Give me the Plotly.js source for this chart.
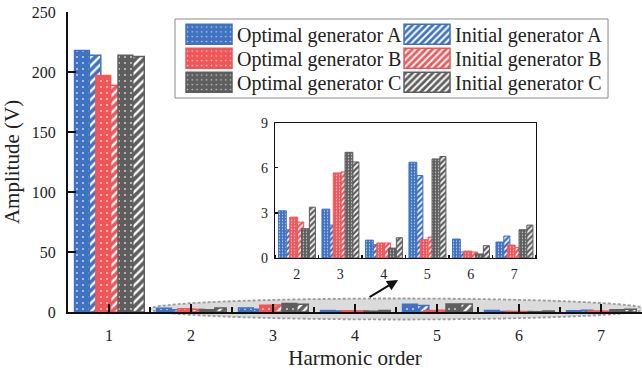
<!DOCTYPE html>
<html>
<head>
<meta charset="utf-8">
<script src="https://cdn.plot.ly/plotly-3.0.1.min.js"></script>
<style>html,body{margin:0;padding:0;background:#fff;}#chart{width:642px;height:372px;}</style>
</head>
<body>
<div id="chart"></div>
<script>
// ---- data ----
const harmonicOrder = [1, 2, 3, 4, 5, 6, 7];
const optimalA = [218, 3.14, 3.25, 1.19, 6.37, 1.26, 1.06];
const initialA = [214, 1.88, 2.19, 0.88, 5.49, 0.40, 1.46];
const optimalB = [197, 2.72, 5.66, 1.00, 1.22, 0.46, 0.86];
const initialB = [189, 2.39, 5.73, 1.00, 1.39, 0.40, 0.69];
const optimalC = [214, 1.95, 7.03, 0.66, 6.59, 0.27, 1.88];
const initialC = [213, 3.38, 6.39, 1.35, 6.75, 0.82, 2.19];
const seriesNames = ['Optimal generator A', 'Initial generator A', 'Optimal generator B',
                     'Initial generator B', 'Optimal generator C', 'Initial generator C'];
const mainTicks = [0, 50, 100, 150, 200, 250];
const insetTicks = [0, 3, 6, 9];

// ---- styles ----
const BLUE = '#3F72C0', RED = '#EF5659', GREY = '#5E5E5E';
const FONT = 'Liberation Serif, Times New Roman, serif';
const seriesData = [optimalA, initialA, optimalB, initialB, optimalC, initialC];
const seriesColor = [BLUE, BLUE, RED, RED, GREY, GREY];
const seriesOffset = [-0.42, -0.24, -0.16, 0.02, 0.11, 0.29];
const seriesWidth = [0.18, 0.14, 0.18, 0.14, 0.18, 0.14];
const seriesLegend = ['legend', 'legend', 'legend2', 'legend2', 'legend3', 'legend3'];

function pattern(i, small) {
  const opt = i % 2 === 0;
  return opt
    ? {shape: '.', bgcolor: seriesColor[i], fgcolor: 'rgba(255,255,255,0.75)', size: small ? 3 : 6, solidity: small ? 0.15 : 0.08, fillmode: 'replace'}
    : {shape: '/', bgcolor: seriesColor[i], fgcolor: '#ffffff', size: small ? 4 : 6, solidity: 0.4, fillmode: 'replace'};
}

const traces = [];
seriesData.forEach((vals, i) => {
  traces.push({
    type: 'bar', x: harmonicOrder, y: vals, name: seriesNames[i],
    xaxis: 'x', yaxis: 'y', legend: seriesLegend[i],
    offset: seriesOffset[i], width: seriesWidth[i],
    marker: {color: seriesColor[i], line: {color: seriesColor[i], width: 1.5}, pattern: pattern(i, false)},
    hoverinfo: 'skip'
  });
});
seriesData.forEach((vals, i) => {
  traces.push({
    type: 'bar', x: harmonicOrder.slice(1), y: vals.slice(1), name: seriesNames[i],
    xaxis: 'x2', yaxis: 'y2', showlegend: false,
    offset: seriesOffset[i], width: seriesWidth[i],
    marker: {color: seriesColor[i], line: {color: seriesColor[i], width: 1}, pattern: pattern(i, true)},
    hoverinfo: 'skip'
  });
});

function legendRow(y) {
  return {
    orientation: 'h', x: 0.1969, y: y, xanchor: 'left', yanchor: 'middle',
    bgcolor: 'rgba(0,0,0,0)', borderwidth: 0,
    font: {family: FONT, size: 20, color: '#222'},
    itemwidth: 46, entrywidth: 157, traceorder: 'normal'
  };
}

const layout = {
  width: 642, height: 372,
  margin: {l: 68, r: 0, t: 12, b: 60},
  paper_bgcolor: '#ffffff', plot_bgcolor: '#ffffff',
  barmode: 'overlay',
  font: {family: FONT, color: '#222', size: 15},
  showlegend: true,
  legend: legendRow(0.9257),
  legend2: legendRow(0.8457),
  legend3: legendRow(0.7657),
  xaxis: {
    domain: [0, 1], range: [0.5, 7.5],
    tickmode: 'array', tickvals: harmonicOrder, ticktext: harmonicOrder.map(String),
    ticks: 'inside', ticklen: 8, tickwidth: 1.5, tickcolor: '#111',
    showline: true, linecolor: '#111', linewidth: 2, zeroline: false, showgrid: false,
    minor: {tickmode: 'linear', tick0: 0.5, dtick: 1, ticks: 'inside', ticklen: 5, tickwidth: 1.5, tickcolor: '#111'},
    tickfont: {family: FONT, size: 16}, ticklabelstandoff: 8,
    title: {text: 'Harmonic order', font: {family: FONT, size: 21}, standoff: 7}
  },
  yaxis: {
    domain: [0, 1], range: [0, 250],
    tickmode: 'array', tickvals: mainTicks,
    ticks: 'inside', ticklen: 8, tickwidth: 1.5, tickcolor: '#111',
    showline: true, linecolor: '#111', linewidth: 2, zeroline: false, showgrid: false,
    tickfont: {family: FONT, size: 16}, ticklabelstandoff: 7,
    title: {text: 'Amplitude (V)', font: {family: FONT, size: 21}, standoff: 6}
  },
  xaxis2: {
    domain: [0.3606, 0.8153], range: [1.5, 7.5], anchor: 'y2',
    tickmode: 'array', tickvals: harmonicOrder.slice(1), ticktext: harmonicOrder.slice(1).map(String),
    ticks: '', showline: true, mirror: true, linecolor: '#111', linewidth: 1.2,
    minor: {tickmode: 'linear', tick0: 0.5, dtick: 1, ticks: 'inside', ticklen: 3, tickwidth: 1.2, tickcolor: '#111'},
    zeroline: false, showgrid: false,
    tickfont: {family: FONT, size: 14}, ticklabelstandoff: 3
  },
  yaxis2: {
    domain: [0.18, 0.631], range: [0, 9], anchor: 'x2',
    tickmode: 'array', tickvals: insetTicks,
    ticks: 'inside', ticklen: 3, tickwidth: 1.2, tickcolor: '#111',
    showline: true, mirror: true, linecolor: '#111', linewidth: 1.2,
    zeroline: false, showgrid: false,
    tickfont: {family: FONT, size: 14}, ticklabelstandoff: 3
  },
  shapes: [{
    type: 'circle', xref: 'paper', yref: 'paper', layer: 'below',
    x0: 0.1429, x1: 1.005, y0: -0.025, y1: 0.045,
    fillcolor: 'rgba(200,200,200,0.65)',
    line: {color: '#9c9c9c', width: 1.8, dash: '3px,2px'}
  }, {
    type: 'rect', xref: 'paper', yref: 'paper', layer: 'above',
    x0: 0.1864, x1: 0.9408, y0: 0.7133, y1: 0.9767,
    fillcolor: '#ffffff', line: {color: '#8a8a8a', width: 1}
  }],
  annotations: [{
    xref: 'paper', yref: 'paper', x: 0.575, y: 0.1067, text: '',
    showarrow: true, arrowhead: 2, arrowsize: 1.1, arrowwidth: 2, arrowcolor: '#111',
    axref: 'pixel', ayref: 'pixel', ax: -30, ay: 18
  }]
};

function widenSwatches() {
  document.querySelectorAll('#chart .legendpoints path').forEach(function (p) {
    p.setAttribute('d', 'M23,10H-23V-10H23Z');
  });
}
Plotly.newPlot('chart', traces, layout, {staticPlot: true, displayModeBar: false}).then(function (gd) {
  widenSwatches();
  gd.on('plotly_afterplot', widenSwatches);
  setTimeout(widenSwatches, 50);
  setTimeout(widenSwatches, 300);
});
</script>
</body>
</html>
